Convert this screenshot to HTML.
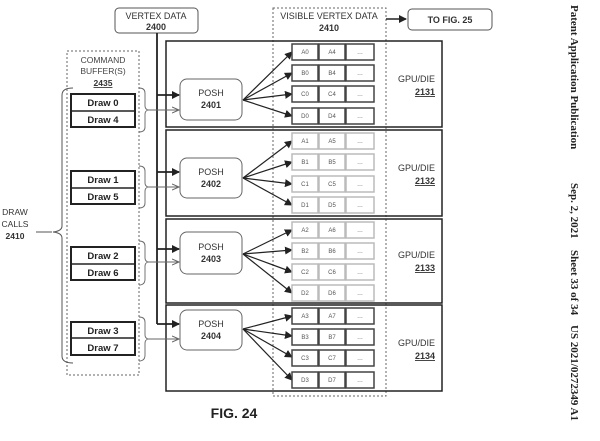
<!DOCTYPE html>
<html><head><style>
html,body{margin:0;padding:0;background:#fff;}
svg{display:block;font-family:"Liberation Sans",sans-serif;}
</style></head><body>
<svg width="600" height="441" viewBox="0 0 600 441" xmlns="http://www.w3.org/2000/svg">
<defs>
<marker id="ah" markerWidth="8" markerHeight="8" refX="7" refY="4" orient="auto" markerUnits="userSpaceOnUse"><path d="M0,0 L8,4 L0,8 z" fill="#222"/></marker>
<marker id="ao" markerWidth="8" markerHeight="8" refX="7" refY="4" orient="auto" markerUnits="userSpaceOnUse"><path d="M0,1 L7,4 L0,7" fill="none" stroke="#666" stroke-width="1"/></marker>
</defs>
<!-- vertex data -->
<rect x="115" y="8" width="83" height="25" rx="4" fill="#fff" stroke="#555"/>
<text x="156" y="19" font-size="9" text-anchor="middle" fill="#333">VERTEX DATA</text>
<text x="156" y="30" font-size="9" font-weight="bold" text-anchor="middle" fill="#333">2400</text>
<!-- visible vertex data -->
<rect x="273" y="8" width="113" height="388" fill="none" stroke="#666" stroke-dasharray="2,2"/>
<text x="329" y="19" font-size="9" text-anchor="middle" fill="#333">VISIBLE VERTEX DATA</text>
<text x="329" y="31" font-size="9" font-weight="bold" text-anchor="middle" fill="#333">2410</text>
<line x1="386" y1="19" x2="406" y2="19" stroke="#222" stroke-width="1.5" marker-end="url(#ah)"/>
<rect x="408" y="9" width="84" height="21" rx="4" fill="#fff" stroke="#555"/>
<text x="450" y="23" font-size="9" font-weight="bold" text-anchor="middle" fill="#333">TO FIG. 25</text>
<!-- command buffer -->
<rect x="67" y="51" width="72" height="324" fill="none" stroke="#666" stroke-dasharray="2,2"/>
<text x="103" y="63" font-size="8.5" text-anchor="middle" fill="#444">COMMAND</text>
<text x="103" y="74" font-size="8.5" text-anchor="middle" fill="#444">BUFFER(S)</text>
<text x="103" y="86" font-size="8.5" font-weight="bold" text-anchor="middle" fill="#333" text-decoration="underline">2435</text>
<!-- draw calls -->
<text x="15" y="215" font-size="8.5" text-anchor="middle" fill="#333">DRAW</text>
<text x="15" y="227" font-size="8.5" text-anchor="middle" fill="#333">CALLS</text>
<text x="15" y="239" font-size="8.5" font-weight="bold" text-anchor="middle" fill="#333">2410</text>
<path d="M73,88 Q62,88 62,95 L62,226 Q62,231 53,232 Q62,233 62,238 L62,356 Q62,363 73,363" fill="none" stroke="#555"/>
<line x1="36" y1="232" x2="52" y2="232" stroke="#555"/>
<!-- vertical vertex line -->
<line x1="157" y1="33" x2="157" y2="324" stroke="#222" stroke-width="1.8"/>
<g id="rows"></g>
<g font-size="9.5" font-weight="bold" fill="#222" text-anchor="middle">
<!-- Draw pairs -->
<rect x="71" y="94" width="64" height="33" fill="#fff" stroke="#222" stroke-width="2"/><line x1="71" y1="111" x2="135" y2="111" stroke="#222" stroke-width="1.5"/>
<text x="103" y="106">Draw 0</text><text x="103" y="123">Draw 4</text>
<rect x="71" y="171" width="64" height="33" fill="#fff" stroke="#222" stroke-width="2"/><line x1="71" y1="188" x2="135" y2="188" stroke="#222" stroke-width="1.5"/>
<text x="103" y="183">Draw 1</text><text x="103" y="200">Draw 5</text>
<rect x="71" y="247" width="64" height="33" fill="#fff" stroke="#222" stroke-width="2"/><line x1="71" y1="264" x2="135" y2="264" stroke="#222" stroke-width="1.5"/>
<text x="103" y="259">Draw 2</text><text x="103" y="276">Draw 6</text>
<rect x="71" y="322" width="64" height="33" fill="#fff" stroke="#222" stroke-width="2"/><line x1="71" y1="338" x2="135" y2="338" stroke="#222" stroke-width="1.5"/>
<text x="103" y="334">Draw 3</text><text x="103" y="351">Draw 7</text>
</g>
<!-- GPU boxes -->
<g fill="none" stroke="#222" stroke-width="1.5">
<rect x="166" y="41" width="276" height="86"/>
<rect x="166" y="130" width="276" height="86"/>
<rect x="166" y="219" width="276" height="84"/>
<rect x="166" y="305" width="276" height="86"/>
</g>
<g font-size="9" fill="#333" text-anchor="end">
<text x="435" y="82">GPU/DIE</text><text x="435" y="95" font-weight="bold" text-decoration="underline">2131</text>
<text x="435" y="171">GPU/DIE</text><text x="435" y="184" font-weight="bold" text-decoration="underline">2132</text>
<text x="435" y="258">GPU/DIE</text><text x="435" y="271" font-weight="bold" text-decoration="underline">2133</text>
<text x="435" y="346">GPU/DIE</text><text x="435" y="359" font-weight="bold" text-decoration="underline">2134</text>
</g>
<!-- POSH units, braces, arrows -->
<g>
<rect x="180" y="79" width="62" height="41" rx="7" fill="#fff" stroke="#666"/>
<text x="211" y="96" font-size="9" text-anchor="middle" fill="#333">POSH</text><text x="211" y="108" font-size="9" font-weight="bold" text-anchor="middle" fill="#333">2401</text>
<rect x="180" y="158" width="62" height="40" rx="7" fill="#fff" stroke="#666"/>
<text x="211" y="175" font-size="9" text-anchor="middle" fill="#333">POSH</text><text x="211" y="187" font-size="9" font-weight="bold" text-anchor="middle" fill="#333">2402</text>
<rect x="180" y="232" width="62" height="42" rx="7" fill="#fff" stroke="#666"/>
<text x="211" y="250" font-size="9" text-anchor="middle" fill="#333">POSH</text><text x="211" y="262" font-size="9" font-weight="bold" text-anchor="middle" fill="#333">2403</text>
<rect x="180" y="310" width="62" height="40" rx="7" fill="#fff" stroke="#666"/>
<text x="211" y="327" font-size="9" text-anchor="middle" fill="#333">POSH</text><text x="211" y="339" font-size="9" font-weight="bold" text-anchor="middle" fill="#333">2404</text>
</g>
<g stroke="#222" stroke-width="1.8" fill="none" marker-end="url(#ah)">
<line x1="157" y1="95" x2="179" y2="95"/>
<line x1="157" y1="172" x2="179" y2="172"/>
<line x1="157" y1="249" x2="179" y2="249"/>
<polyline points="157,324 179,324"/>
</g>
<g stroke="#666" stroke-width="0.9" fill="none">
<path d="M139,88 Q145,88 145,93 L145,106 Q145,109 148,110 Q145,111 145,114 L145,127 Q145,132 139,132"/>
<path d="M139,166 Q145,166 145,171 L145,183 Q145,186 148,187 Q145,188 145,191 L145,203 Q145,208 139,208"/>
<path d="M139,241 Q145,241 145,246 L145,258 Q145,261 148,262 Q145,263 145,266 L145,279 Q145,285 139,285"/>
<path d="M139,317 Q145,317 145,322 L145,335 Q145,338 148,339 Q145,340 145,343 L145,355 Q145,361 139,361"/>
</g>
<g stroke="#666" stroke-width="0.9" marker-end="url(#ao)">
<line x1="148" y1="110" x2="179" y2="110"/>
<line x1="148" y1="187" x2="179" y2="187"/>
<line x1="148" y1="262" x2="179" y2="262"/>
<line x1="148" y1="339" x2="179" y2="339"/>
</g>
<!-- fan arrows -->
<g stroke="#222" stroke-width="1.2" marker-end="url(#ah)">
<line x1="243" y1="100" x2="292" y2="52"/><line x1="243" y1="100" x2="292" y2="73"/><line x1="243" y1="100" x2="292" y2="94"/><line x1="243" y1="100" x2="292" y2="116"/>
<line x1="243" y1="178" x2="292" y2="141"/><line x1="243" y1="178" x2="292" y2="162"/><line x1="243" y1="178" x2="292" y2="184"/><line x1="243" y1="178" x2="292" y2="205"/>
<line x1="243" y1="254" x2="292" y2="230"/><line x1="243" y1="254" x2="292" y2="250"/><line x1="243" y1="254" x2="292" y2="272"/><line x1="243" y1="254" x2="292" y2="293"/>
<line x1="243" y1="329" x2="292" y2="316"/><line x1="243" y1="329" x2="292" y2="336"/><line x1="243" y1="329" x2="292" y2="357"/><line x1="243" y1="329" x2="292" y2="380"/>
</g>
<!-- cells -->
<g font-size="6" text-anchor="middle" fill="#555">
<g stroke="#444" stroke-width="1.5" fill="#fff">
<rect x="292" y="44" width="26" height="16"/><rect x="319" y="44" width="26" height="16"/><rect x="346" y="44" width="28" height="16"/>
<rect x="292" y="65" width="26" height="16"/><rect x="319" y="65" width="26" height="16"/><rect x="346" y="65" width="28" height="16"/>
<rect x="292" y="86" width="26" height="16"/><rect x="319" y="86" width="26" height="16"/><rect x="346" y="86" width="28" height="16"/>
<rect x="292" y="108" width="26" height="16"/><rect x="319" y="108" width="26" height="16"/><rect x="346" y="108" width="28" height="16"/>
<rect x="292" y="308" width="26" height="16"/><rect x="319" y="308" width="26" height="16"/><rect x="346" y="308" width="28" height="16"/>
<rect x="292" y="329" width="26" height="16"/><rect x="319" y="329" width="26" height="16"/><rect x="346" y="329" width="28" height="16"/>
<rect x="292" y="350" width="26" height="16"/><rect x="319" y="350" width="26" height="16"/><rect x="346" y="350" width="28" height="16"/>
<rect x="292" y="372" width="26" height="16"/><rect x="319" y="372" width="26" height="16"/><rect x="346" y="372" width="28" height="16"/>
</g>
<g stroke="#bbb" stroke-width="1.5" fill="#fff">
<rect x="292" y="133" width="26" height="16"/><rect x="319" y="133" width="26" height="16"/><rect x="346" y="133" width="28" height="16"/>
<rect x="292" y="154" width="26" height="16"/><rect x="319" y="154" width="26" height="16"/><rect x="346" y="154" width="28" height="16"/>
<rect x="292" y="176" width="26" height="16"/><rect x="319" y="176" width="26" height="16"/><rect x="346" y="176" width="28" height="16"/>
<rect x="292" y="197" width="26" height="16"/><rect x="319" y="197" width="26" height="16"/><rect x="346" y="197" width="28" height="16"/>
<rect x="292" y="222" width="26" height="16"/><rect x="319" y="222" width="26" height="16"/><rect x="346" y="222" width="28" height="16"/>
<rect x="292" y="243" width="26" height="16"/><rect x="319" y="243" width="26" height="16"/><rect x="346" y="243" width="28" height="16"/>
<rect x="292" y="264" width="26" height="16"/><rect x="319" y="264" width="26" height="16"/><rect x="346" y="264" width="28" height="16"/>
<rect x="292" y="285" width="26" height="16"/><rect x="319" y="285" width="26" height="16"/><rect x="346" y="285" width="28" height="16"/>
</g>
<text x="305" y="54">A0</text><text x="332" y="54">A4</text><text x="360" y="54">…</text>
<text x="305" y="75">B0</text><text x="332" y="75">B4</text><text x="360" y="75">…</text>
<text x="305" y="96">C0</text><text x="332" y="96">C4</text><text x="360" y="96">…</text>
<text x="305" y="118">D0</text><text x="332" y="118">D4</text><text x="360" y="118">…</text>
<text x="305" y="143">A1</text><text x="332" y="143">A5</text><text x="360" y="143">…</text>
<text x="305" y="164">B1</text><text x="332" y="164">B5</text><text x="360" y="164">…</text>
<text x="305" y="186">C1</text><text x="332" y="186">C5</text><text x="360" y="186">…</text>
<text x="305" y="207">D1</text><text x="332" y="207">D5</text><text x="360" y="207">…</text>
<text x="305" y="232">A2</text><text x="332" y="232">A6</text><text x="360" y="232">…</text>
<text x="305" y="253">B2</text><text x="332" y="253">B6</text><text x="360" y="253">…</text>
<text x="305" y="274">C2</text><text x="332" y="274">C6</text><text x="360" y="274">…</text>
<text x="305" y="295">D2</text><text x="332" y="295">D6</text><text x="360" y="295">…</text>
<text x="305" y="318">A3</text><text x="332" y="318">A7</text><text x="360" y="318">…</text>
<text x="305" y="339">B3</text><text x="332" y="339">B7</text><text x="360" y="339">…</text>
<text x="305" y="360">C3</text><text x="332" y="360">C7</text><text x="360" y="360">…</text>
<text x="305" y="382">D3</text><text x="332" y="382">D7</text><text x="360" y="382">…</text>
</g>
<text x="234" y="418" font-size="14" font-weight="bold" text-anchor="middle" fill="#222">FIG. 24</text>
<!-- side header -->
<g transform="translate(571,5) rotate(90)" font-family="Liberation Serif,serif" font-size="11" font-weight="bold" fill="#222">
<text x="0" y="0">Patent Application Publication</text>
<text x="178" y="0">Sep. 2, 2021</text>
<text x="245" y="0">Sheet 33 of 34</text>
<text x="320" y="0">US 2021/0272349 A1</text>
</g>
</svg>
</body></html>
